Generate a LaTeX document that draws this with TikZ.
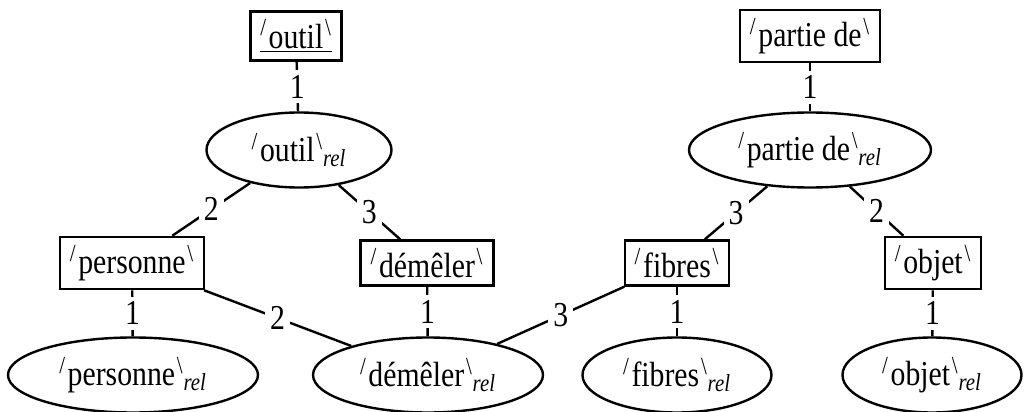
\documentclass[tikz,border=0pt]{standalone}
\usepackage{fontspec}
\usepackage{graphicx}
\setmainfont{Liberation Serif}
\usetikzlibrary{shapes.geometric}
\newcommand{\sqz}[1]{\scalebox{0.85}[1]{#1}}
\newcommand{\lexm}[1]{\sqz{\textsuperscript{/}\kern0.06em#1\kern0.06em\textsuperscript{\textbackslash}}}
\newcommand{\lexu}[1]{\sqz{\underline{\textsuperscript{/}\kern0.06em#1\kern0.06em\textsuperscript{\textbackslash}}}}
\newcommand{\lexr}[1]{\sqz{\textsuperscript{/}\kern0.06em#1\kern0.06em\textsuperscript{\textbackslash}\textsubscript{\itshape rel}}}
\begin{document}
\begin{tikzpicture}[x=0.5pt,y=-0.5pt,
  every node/.style={font=\fontsize{17.5}{21}\selectfont},
  lexbox/.style={draw,line width=1.2pt,rectangle,inner xsep=5pt,inner ysep=4pt},
  relell/.style={draw,line width=1.2pt,ellipse,inner sep=0pt,minimum height=37.5pt},
  conn/.style={line width=1.2pt},
  lab/.style={fill=white,inner sep=2.5pt}]
\useasboundingbox (0,0) rectangle (1024,412);
% top row
\node[lexbox] (outil) at (296,36) {\lexu{outil}};
\node[lexbox] (partie) at (810,36) {\lexm{partie de}};
% ellipses row 2
\node[relell,minimum width=92.5pt] (outilrel) at (299,150) {\lexr{outil}};
\node[relell,minimum width=121pt] (partierel) at (810,150) {\lexr{partie de}};
% boxes row 3
\node[lexbox] (personne) at (132,263) {\lexm{personne}};
\node[lexbox] (demeler) at (427,263) {\lexm{démêler}};
\node[lexbox] (fibres) at (677,263) {\lexm{fibres}};
\node[lexbox] (objet) at (933,263) {\lexm{objet}};
% bottom ellipses
\node[relell,minimum width=125pt] (personnerel) at (133,375) {\lexr{personne}};
\node[relell,minimum width=115pt] (demelerrel) at (428,375) {\lexr{démêler}};
\node[relell,minimum width=94.5pt] (fibresrel) at (677,375) {\lexr{fibres}};
\node[relell,minimum width=89.5pt] (objetrel) at (932,375) {\lexr{objet}};
% connectors
\draw[conn] (outil) -- node[lab] {\sqz{1}} (outilrel);
\draw[conn] (partie) -- node[lab] {\sqz{1}} (partierel);
\draw[conn] (outilrel) -- node[lab] {\sqz{2}} (personne);
\draw[conn] (outilrel) -- node[lab] {\sqz{3}} (demeler);
\draw[conn] (partierel) -- node[lab] {\sqz{3}} (fibres);
\draw[conn] (partierel) -- node[lab] {\sqz{2}} (objet);
\draw[conn] (personne) -- node[lab] {\sqz{1}} (personnerel);
\draw[conn] (personne) -- node[lab] {\sqz{2}} (demelerrel);
\draw[conn] (demeler) -- node[lab] {\sqz{1}} (demelerrel);
\draw[conn] (fibres) -- node[lab] {\sqz{3}} (demelerrel);
\draw[conn] (fibres) -- node[lab] {\sqz{1}} (fibresrel);
\draw[conn] (objet) -- node[lab] {\sqz{1}} (objetrel);
\end{tikzpicture}
\end{document}
